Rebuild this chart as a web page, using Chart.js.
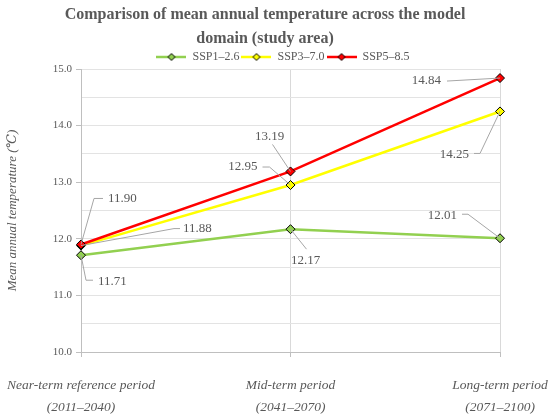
<!DOCTYPE html>
<html>
<head>
<meta charset="utf-8">
<script src="https://cdn.jsdelivr.net/npm/chart.js@4.4.1/dist/chart.umd.min.js"></script>
<style>
  html, body { margin: 0; padding: 0; background: #ffffff; }
  #wrap { width: 550px; height: 419px; }
</style>
</head>
<body>
<div id="wrap"><canvas id="lineChart"></canvas></div>
<script>
// periods on the x axis
const periods = [
  ['Near-term reference period', '(2011\u20132040)'],
  ['Mid-term period', '(2041\u20132070)'],
  ['Long-term period', '(2071\u20132100)']
]

// mean annual temperature per scenario
const ssp126 = [11.71, 12.17, 12.01]
const ssp370 = [11.88, 12.95, 14.25]
const ssp585 = [11.90, 13.19, 14.84]

const seriesNames = ['SSP1\u20132.6', 'SSP3\u20137.0', 'SSP5\u20138.5']
const seriesColors = ['#92d050', '#ffff00', '#ff0000']

// callout placement, offsets from each point in px
// t = text anchor, a = text align, l = leader polyline
const calloutLayout = [
  [ {t: [17, 26], a: 'left', l: [[5, 25], [12, 25]]},
    {t: [15, 31], a: 'center', l: [[16, 20]]},
    {t: [-43, -23], a: 'right', l: [[-32, -24], [-38, -24]]} ],
  [ {t: [102, -17], a: 'left', l: [[93, -17], [99, -17]]},
    {t: [-33, -18], a: 'right', l: [[-21, -18], [-28, -18]]},
    {t: [-31, 43], a: 'right', l: [[-20, 42], [-26, 42]]} ],
  [ {t: [27, -46], a: 'left', l: [[13, -46], [22, -46]]},
    {t: [-21, -35], a: 'center', l: [[-18, -27]]},
    {t: [-59, 3], a: 'right', l: [[-53, 3]]} ]
]

const gray = '#595959'
const serif = "'Liberation Serif', 'DejaVu Serif', serif"

// legend symbol: short line with a diamond in the middle
function legendSymbol(color)
{
    const c = document.createElement('canvas')
    c.width = 30
    c.height = 10
    const g = c.getContext('2d')
    g.strokeStyle = color
    g.lineWidth = 2.5
    g.beginPath()
    g.moveTo(0, 5)
    g.lineTo(30, 5)
    g.stroke()
    g.fillStyle = color
    g.strokeStyle = '#000000'
    g.lineWidth = 1
    g.beginPath()
    g.moveTo(15, 1.5)
    g.lineTo(18.5, 5)
    g.lineTo(15, 8.5)
    g.lineTo(11.5, 5)
    g.closePath()
    g.fill()
    g.stroke()
    return c
}

const callouts = {
    id: 'callouts',
    afterLayout(chart)
    {
        // title sits a bit left of centre, legend a bit right and lower
        chart.titleBlock.left -= 10
        chart.titleBlock.right -= 10
        chart.legend.left += 8
        chart.legend.right += 8
        chart.legend.top += 4
        chart.legend.bottom += 4
    },
    afterDatasetsDraw(chart)
    {
        const ctx = chart.ctx
        ctx.save()
        ctx.font = "13px " + serif
        ctx.fillStyle = gray
        ctx.textBaseline = 'middle'
        chart.data.datasets.forEach((ds, i) => {
            const meta = chart.getDatasetMeta(i)
            meta.data.forEach((pt, j) => {
                const lay = calloutLayout[i][j]
                ctx.strokeStyle = '#a6a6a6'
                ctx.lineWidth = 1
                ctx.beginPath()
                ctx.moveTo(pt.x, pt.y)
                lay.l.forEach(p => ctx.lineTo(pt.x + p[0], pt.y + p[1]))
                ctx.stroke()
                ctx.textAlign = lay.a
                ctx.fillText(ds.data[j].toFixed(2), pt.x + lay.t[0], pt.y + lay.t[1])
            })
        })
        ctx.restore()
    }
}

const allSeries = [ssp126, ssp370, ssp585]

const data = {
    labels: periods,
    datasets: allSeries.map((vals, i) => ({
        label: seriesNames[i],
        data: vals,
        borderColor: seriesColors[i],
        backgroundColor: seriesColors[i],
        borderWidth: 2.5,
        pointStyle: 'rectRot',
        pointRadius: 4.5,
        pointBorderColor: '#000000',
        pointBorderWidth: 1,
        pointBackgroundColor: seriesColors[i],
        order: 3 - i,
        tension: 0
    }))
}

const ctx = document.getElementById('lineChart').getContext('2d')

const myChart = new Chart(ctx, {
    type: 'line',
    data: data,
    plugins: [callouts],
    options: {
        responsive: true,
        maintainAspectRatio: false,
        animation: false,
        devicePixelRatio: 1,
        layout: { padding: 0 },
        plugins: {
            tooltip: { enabled: false },
            title: {
                display: true,
                text: ['Comparison of mean annual temperature across the model', 'domain (study area)'],
                color: gray,
                font: { family: serif, size: 16, weight: 'bold', lineHeight: 1.5 },
                padding: { top: 3, bottom: -6 }
            },
            legend: {
                position: 'top',
                labels: {
                    usePointStyle: true,
                    pointStyleWidth: 30,
                    padding: 2,
                    color: gray,
                    font: { family: serif, size: 12 },
                    generateLabels: chart => chart.data.datasets.map((ds, i) => ({
                        text: ds.label,
                        pointStyle: legendSymbol(seriesColors[i]),
                        fillStyle: seriesColors[i],
                        strokeStyle: seriesColors[i],
                        lineWidth: 0,
                        fontColor: gray,
                        datasetIndex: i,
                        hidden: false
                    }))
                }
            }
        },
        scales: {
            x: {
                type: 'category',
                offset: false,
                grid: { color: '#d9d9d9', tickColor: '#bfbfbf', tickLength: 5 },
                border: { color: '#bfbfbf' },
                ticks: {
                    color: gray,
                    padding: 18,
                    maxRotation: 0,
                    autoSkip: false,
                    font: { family: serif, size: 13.5, style: 'italic', lineHeight: 1.6 }
                },
                afterFit: scale => {
                    scale.height = 67
                    scale.paddingLeft = 0
                    scale.paddingRight = 50
                }
            },
            y: {
                min: 10,
                max: 15,
                grid: {
                    color: '#e3e3e3',
                    tickLength: 5,
                    tickColor: c => (c.tick && c.tick.value % 1 === 0) ? '#bfbfbf' : 'rgba(0,0,0,0)'
                },
                border: { color: '#bfbfbf' },
                ticks: {
                    stepSize: 0.5,
                    color: gray,
                    padding: 4,
                    font: { family: serif, size: 11 },
                    callback: v => v % 1 === 0 ? v.toFixed(1) : ''
                },
                title: {
                    display: true,
                    text: 'Mean annual temperature (\u2103)',
                    color: gray,
                    padding: { top: 5, bottom: 0 },
                    font: { family: serif, size: 13, style: 'italic' }
                },
                afterFit: scale => {
                    scale.width = 81
                    scale.paddingTop = 5
                }
            }
        }
    }
})
</script>
</body>
</html>
